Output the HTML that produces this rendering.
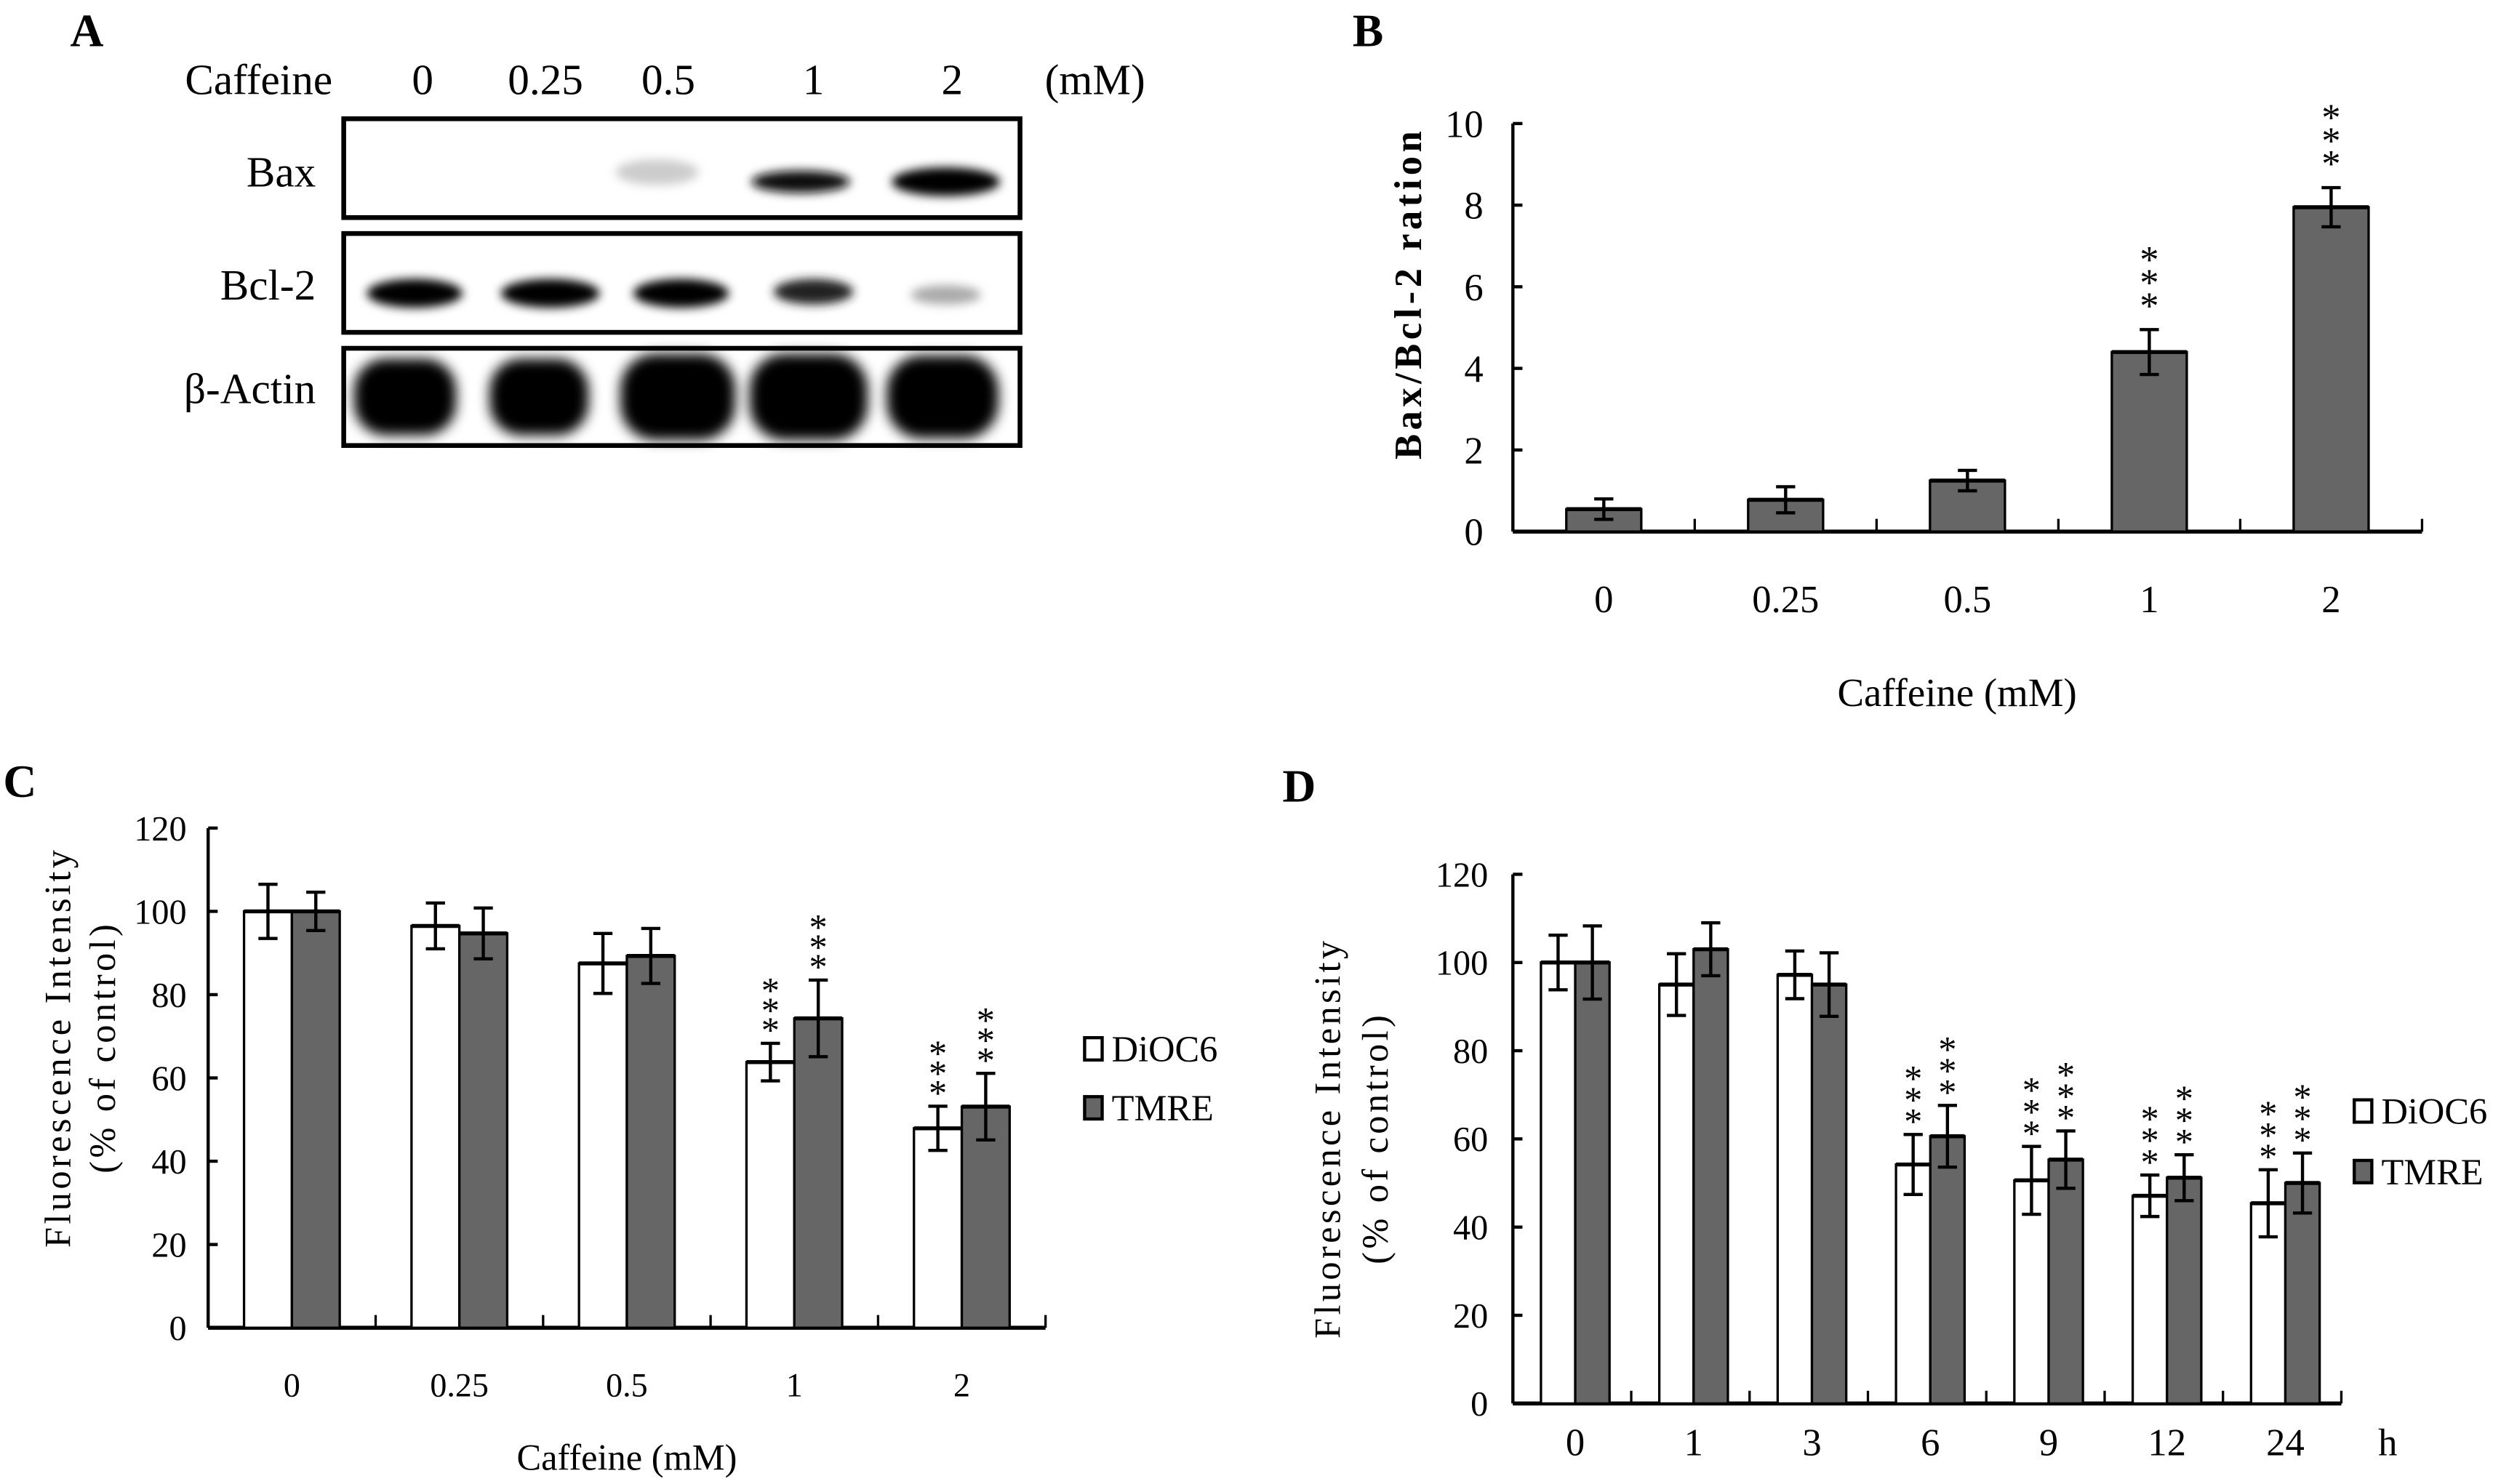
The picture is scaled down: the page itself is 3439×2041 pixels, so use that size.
<!DOCTYPE html>
<html><head><meta charset="utf-8"><style>
html,body{margin:0;padding:0;background:#fff;}
svg{display:block;font-family:"Liberation Serif",serif;}
</style></head><body>
<svg id="fig" width="3439" height="2041" viewBox="0 0 1568 931" preserveAspectRatio="none" xmlns="http://www.w3.org/2000/svg">
<defs>
<filter id="bl" x="-50%" y="-50%" width="200%" height="200%"><feGaussianBlur stdDeviation="3"/></filter>
<filter id="bl2" x="-50%" y="-50%" width="200%" height="200%"><feGaussianBlur stdDeviation="4"/></filter>
</defs>
<text x="44" y="29" font-size="29" font-weight="bold">A</text>
<text x="848" y="29" font-size="29" font-weight="bold">B</text>
<text x="2" y="500" font-size="29" font-weight="bold">C</text>
<text x="804" y="503" font-size="29" font-weight="bold">D</text>

<g font-size="27">
<text x="116" y="59">Caffeine</text>
<text x="265" y="59" text-anchor="middle">0</text>
<text x="342" y="59" text-anchor="middle">0.25</text>
<text x="419" y="59" text-anchor="middle">0.5</text>
<text x="510" y="59" text-anchor="middle">1</text>
<text x="597" y="59" text-anchor="middle">2</text>
<text x="655" y="59">(mM)</text>
<text x="198" y="117" text-anchor="end">Bax</text>
<text x="198" y="188" text-anchor="end">Bcl-2</text>
<text x="198" y="253" text-anchor="end">β-Actin</text>
<g filter="url(#bl)">
<ellipse cx="412" cy="108" rx="26" ry="8" fill="#ccc"/>
<ellipse cx="502" cy="114" rx="31" ry="7" fill="#111"/>
<ellipse cx="593" cy="114" rx="34" ry="9" fill="#000"/>
</g>
<g filter="url(#bl)">
<ellipse cx="260" cy="184" rx="30" ry="9" fill="#000"/>
<ellipse cx="345" cy="184" rx="31" ry="9" fill="#000"/>
<ellipse cx="427" cy="184" rx="30" ry="9" fill="#000"/>
<ellipse cx="510" cy="183" rx="25" ry="8" fill="#222"/>
<ellipse cx="593" cy="185" rx="22" ry="6" fill="#aaa"/>
</g>
<g filter="url(#bl2)">
<rect x="222" y="225" width="64" height="48" rx="20" fill="#000"/>
<rect x="307" y="225" width="62" height="48" rx="20" fill="#000"/>
<rect x="389" y="222" width="72" height="54" rx="22" fill="#000"/>
<rect x="470" y="222" width="74" height="54" rx="22" fill="#000"/>
<rect x="556" y="223" width="70" height="52" rx="22" fill="#000"/>
</g>
<rect x="215.5" y="74.5" width="424" height="62" fill="none" stroke="#000" stroke-width="3"/>
<rect x="215.5" y="146.5" width="424" height="62" fill="none" stroke="#000" stroke-width="3"/>
<rect x="215.5" y="218.5" width="424" height="61" fill="none" stroke="#000" stroke-width="3"/>
</g>

<g id="chartB"></g>
<g id="chartC"></g>
<g id="chartD"></g>
</svg>
<script>
const bCategories = ["0","0.25","0.5","1","2"];
const bValues = [0.55, 0.78, 1.25, 4.4, 7.95];
const bErrors = [0.25, 0.32, 0.25, 0.55, 0.48];
const bSig = [false, false, false, true, true];
const bTicks = [0,2,4,6,8,10];

const cCategories = ["0","0.25","0.5","1","2"];
const cDiOC6 = [100, 96.5, 87.5, 63.8, 47.9];
const cDiOC6Err = [6.5, 5.5, 7.2, 4.5, 5.3];
const cTMRE = [100, 94.7, 89.3, 74.3, 53.1];
const cTMREErr = [4.6, 6.1, 6.6, 9.2, 8];
const cSig = [false, false, false, true, true];
const cTicks = [0,20,40,60,80,100,120];

const dCategories = ["0","1","3","6","9","12","24"];
const dDiOC6 = [100, 95, 97.2, 54.2, 50.6, 47.1, 45.4];
const dDiOC6Err = [6.2, 7, 5.4, 6.8, 7.7, 4.7, 7.6];
const dTMRE = [100, 103, 95, 60.6, 55.3, 51.2, 50];
const dTMREErr = [8.3, 6, 7.2, 7, 6.5, 5.2, 6.8];
const dSig = [false, false, false, true, true, true, true];
const dTicks = [0,20,40,60,80,100,120];

const NS = "http://www.w3.org/2000/svg";
function mk(parent, tag, attrs, text){
  const e = document.createElementNS(NS, tag);
  for (const k in attrs) e.setAttribute(k, attrs[k]);
  if (text !== undefined) e.textContent = text;
  parent.appendChild(e);
  return e;
}
function errBar(g, x, y, yTop, yBot, cap){
  const p = mk(g, "path", {d:`M${x} ${yTop}V${yBot}M${x-cap} ${yTop}H${x+cap}M${x-cap} ${yBot}H${x+cap}`, stroke:"#000", "stroke-width":"2", fill:"none"});
  
  
}
function stars(g, x, yTop, step, fs, gap){
  for (let k=0;k<3;k++){
    const cy = yTop - gap - k*step;
    const t = mk(g, "text", {x:x, y:cy+fs*0.55, "font-size":fs, "text-anchor":"middle"}, "*");
    
    
  }
}
function axes(g, ax, y0, yMax, xEnd, spacing, n, ticks, tmax, labelX, fs){
  const ys = v => y0 - (y0 - yMax) * v / tmax;
  const yl = mk(g, "path", {d:`M${ax} ${yMax}V${y0}`, stroke:"#000","stroke-width":"2"});
  
  
  const xl = mk(g, "path", {d:`M${ax} ${y0}H${xEnd}`, stroke:"#000","stroke-width":"2.5"});
  
  
  ticks.forEach(v=>{
    const y = ys(v);
    const tk = mk(g, "path", {d:`M${ax} ${y}H${ax+6}`, stroke:"#000","stroke-width":"2"});
    
    
    const tl = mk(g, "text", {x:labelX, y:y+fs*0.35, "font-size":fs, "text-anchor":"end"}, String(v));
    
    
  });
  for (let i=1;i<=n;i++){
    const x = ax + i*spacing;
    const tk = mk(g, "path", {d:`M${x} ${y0}V${y0-8}`, stroke:"#000","stroke-width":"1.5"});
    
    
  }
  return ys;
}

(function(){
  const g = document.getElementById("chartB");
  const ax=948.5, y0=333.5, yMax=77.5, sp=114, bw=47;
  const ys = axes(g, ax, y0, yMax, ax+sp*5, sp, 5, bTicks, 10, 930, 24);
  bCategories.forEach((c,i)=>{
    const cx = ax + sp/2 + i*sp;
    const y = ys(bValues[i]);
    const r = mk(g, "rect", {x:cx-bw/2, y:y, width:bw, height:y0-y, fill:"#666", stroke:"#000","stroke-width":"1.5"});
    
    
    mk(g, "path", {d:`M${cx-bw/2} ${y}H${cx+bw/2}`, stroke:"#000","stroke-width":"2.5"});
    const yt = ys(bValues[i]+bErrors[i]);
    errBar(g, cx, y, yt, ys(bValues[i]-bErrors[i]), 6);
    if (bSig[i]) stars(g, cx, yt, 14.5, 24, 20);
    const tl = mk(g, "text", {x:cx, y:384, "font-size":24, "text-anchor":"middle"}, c);
    
    
  });
  const yt = mk(g, "text", {transform:"translate(891 184) rotate(-90)", "font-size":24, "font-weight":"bold", "letter-spacing":"2.5", "text-anchor":"middle"}, "Bax/Bcl-2 ration");
  
  
  const xt = mk(g, "text", {x:1227, y:443, "font-size":25, "text-anchor":"middle"}, "Caffeine (mM)");
  
  
})();

function groupChart(g, o){
  const ys = axes(g, o.ax, o.y0, o.yMax, o.ax+o.sp*o.cats.length, o.sp, o.cats.length, o.ticks, 120, o.labelX, 22);
  o.cats.forEach((c,i)=>{
    const cx = o.ax + o.sp/2 + i*o.sp + o.shift;
    [[o.s1, o.e1, "#fff", -1, "dioc6"], [o.s2, o.e2, "#666", 0, "tmre"]].forEach(([s,e,fill,off,nm])=>{
      const x = cx + off*o.bw;
      const y = ys(s[i]);
      const r = mk(g, "rect", {x:x, y:y, width:o.bw, height:o.y0-y, fill:fill, stroke:"#000","stroke-width":"1.5"});
      
      
      mk(g, "path", {d:`M${x} ${y}H${x+o.bw}`, stroke:"#000","stroke-width":"2.5"});
      const bx = x + o.bw/2;
      const yt = ys(s[i]+e[i]);
      errBar(g, bx, y, yt, ys(s[i]-e[i]), 6);
      if (o.sig[i]) stars(g, bx, yt, o.starStep, 23, 13);
    });
    const tl = mk(g, "text", {x:cx, y:o.labY, "font-size":o.labFs, "text-anchor":"middle"}, c);
    
    
  });
  [["DiOC6","#fff",o.lg1],["TMRE","#666",o.lg2]].forEach(([t,fill,cy])=>{
    const r = mk(g, "rect", {x:o.lgx, y:cy-7, width:11, height:14, fill:fill, stroke:"#000","stroke-width":"2"});
    
    
    const tx = mk(g, "text", {x:o.lgx+17, y:cy+8, "font-size":23}, t);
    
    
  });
  const y1 = mk(g, "text", {transform:`translate(${o.tx1} ${o.ty}) rotate(-90)`, "font-size":23, "letter-spacing":"2", "text-anchor":"middle"}, "Fluorescence Intensity");
  
  
  const y2 = mk(g, "text", {transform:`translate(${o.tx2} ${o.ty}) rotate(-90)`, "font-size":23, "letter-spacing":"2", "text-anchor":"middle"}, "(% of control)");
  
  
}

groupChart(document.getElementById("chartC"), {
  ax:130.5, y0:833, yMax:519.5, sp:105, bw:30, shift:0, cats:cCategories,
  s1:cDiOC6, e1:cDiOC6Err, s2:cTMRE, e2:cTMREErr, sig:cSig, ticks:cTicks, labelX:117,
  labY:876, labFs:21, starStep:12.5, lgx:680, lg1:658, lg2:695, tx1:44, tx2:72, ty:657
});
(function(){
  const t = mk(document.getElementById("chartC"), "text", {x:393, y:922, "font-size":23, "text-anchor":"middle"}, "Caffeine (mM)");
  
  
})();

groupChart(document.getElementById("chartD"), {
  ax:948.5, y0:880.5, yMax:548.5, sp:74.2, bw:21.5, shift:2, cats:dCategories,
  s1:dDiOC6, e1:dDiOC6Err, s2:dTMRE, e2:dTMREErr, sig:dSig, ticks:dTicks, labelX:933,
  labY:913, labFs:24, starStep:13.5, lgx:1476, lg1:697, lg2:735, tx1:840, tx2:870, ty:714
});
(function(){
  const t = mk(document.getElementById("chartD"), "text", {x:1497, y:913, "font-size":24, "text-anchor":"middle"}, "h");
  
  
})();
</script>
</body></html>
